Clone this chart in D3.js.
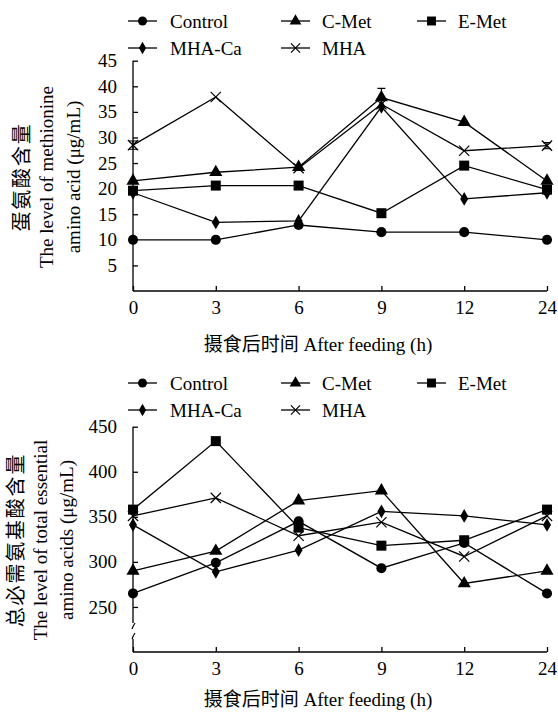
<!DOCTYPE html>
<html>
<head>
<meta charset="utf-8">
<script src="https://cdn.jsdelivr.net/npm/d3@7"></script>
<style>
  body { margin: 0; background: #fff; }
  text { font-family: "Liberation Serif", "Times New Roman", "Noto Sans CJK SC", serif; fill: #000; }
</style>
</head>
<body>
<div class="canvas"></div>
<script>
// data
const hours = ['0', '3', '6', '9', '12', '24'];
const groups = ['Control', 'C-Met', 'E-Met', 'MHA-Ca', 'MHA'];

// methionine (µg/mL)
const metControl = [10.0, 10.0, 12.9, 11.5, 11.5, 10.0];
const metCMet    = [21.5, 23.2, 24.2, 37.8, 33.0, 21.5];
const metEMet    = [19.6, 20.6, 20.6, 15.2, 24.5, 19.8];
const metMHACa   = [19.2, 13.4, 13.7, 36.0, 18.0, 19.2];
const metMHA     = [28.5, 37.9, 24.0, 36.5, 27.4, 28.4];
const metErrCMet = [0, 0, 0, 1.8, 0, 0];
const metErrMHA  = [0.8, 0, 0, 0, 0, 0.6];

// total essential amino acids (µg/mL)
const taaControl = [265, 299, 345, 293, 321, 265];
const taaCMet    = [290, 312, 368, 379, 276, 290];
const taaEMet    = [358, 434, 338, 318, 324, 358];
const taaMHACa   = [341, 289, 313, 356, 351, 341];
const taaMHA     = [351, 371, 329, 344, 306, 351];

const metTicks = [5, 10, 15, 20, 25, 30, 35, 40, 45];
const taaTicks = [250, 300, 350, 400, 450];

const symbols = [d3.symbolCircle, d3.symbolTriangle, d3.symbolSquare, d3.symbolDiamond, d3.symbolX];
const symSize = [80, 75, 100, 55, 70];

const svg = d3.select('.canvas')
  .append('svg')
  .attr('width', 558)
  .attr('height', 712);

const x = d3.scalePoint().domain(hours).range([133, 547]);

const drawLegend = (top) => {
  const pos = [[128, top], [281, top], [417, top], [128, top + 27], [281, top + 27]];
  groups.forEach((name, i) => {
    const g = svg.append('g').attr('transform', `translate(${pos[i][0]}, ${pos[i][1]})`);
    g.append('line')
      .attr('x1', 0).attr('x2', 29)
      .attr('stroke', '#000').attr('stroke-width', 1.3);
    g.append('path')
      .attr('transform', 'translate(14.5, 0)')
      .attr('d', d3.symbol().type(symbols[i]).size(symSize[i] * 0.8)())
      .attr('fill', i === 4 ? 'none' : '#000')
      .attr('stroke', '#000')
      .attr('stroke-width', i === 4 ? 1.2 : 0);
    g.append('text')
      .attr('x', i === 0 || i === 3 ? 42 : 41)
      .attr('y', 6.5)
      .attr('font-size', 19)
      .text(name);
  });
};

const drawChart = (opts) => {
  const { y, ticks, series, errors, titleLines, titleX, titleY, xTitleY, axisBreak } = opts;
  const g = svg.append('g');
  const [bottom, top] = y.range();

  // y axis
  const yAxis = d3.axisLeft(y)
    .tickValues(ticks)
    .tickSizeInner(-5)
    .tickSizeOuter(0)
    .tickPadding(16);
  const yg = g.append('g').attr('transform', `translate(${x.range()[0]}, 0)`).call(yAxis);
  yg.attr('font-family', null);
  yg.select('.domain').remove();
  yg.selectAll('line').attr('stroke-width', 1.3);
  yg.selectAll('text').attr('font-size', 19);

  const x0 = x.range()[0];
  if (axisBreak) {
    g.append('line').attr('x1', x0).attr('x2', x0).attr('y1', top).attr('y2', axisBreak[0])
      .attr('stroke', '#000').attr('stroke-width', 1.3);
    g.append('line').attr('x1', x0).attr('x2', x0).attr('y1', axisBreak[1] + 3).attr('y2', bottom)
      .attr('stroke', '#000').attr('stroke-width', 1.3);
    [axisBreak[0], axisBreak[1] - 3].forEach(yy => {
      g.append('path')
        .attr('d', `M${x0 - 1},${yy + 6} Q${x0},${yy + 3} ${x0 + 2},${yy}`)
        .attr('fill', 'none').attr('stroke', '#000').attr('stroke-width', 1.2);
    });
  } else {
    g.append('line').attr('x1', x0).attr('x2', x0).attr('y1', top).attr('y2', bottom)
      .attr('stroke', '#000').attr('stroke-width', 1.3);
  }

  // x axis
  const xAxis = d3.axisBottom(x)
    .tickSizeInner(-5)
    .tickSizeOuter(0)
    .tickPadding(10);
  const xg = g.append('g').attr('transform', `translate(0, ${bottom})`).call(xAxis);
  xg.attr('font-family', null);
  xg.select('.domain').attr('d', `M${x.range()[0]},0H${x.range()[1]}`).attr('stroke-width', 1.3);
  xg.selectAll('line').attr('stroke-width', 1.3);
  xg.selectAll('text').attr('font-size', 19);

  g.append('text')
    .attr('x', 318)
    .attr('y', xTitleY)
    .attr('text-anchor', 'middle')
    .attr('font-size', 19)
    .text('摄食后时间 After feeding (h)');

  // y title, first line is Chinese
  titleLines.forEach((t, i) => {
    const tt = g.append('text')
      .attr('transform', `translate(${titleX[i]}, ${titleY}) rotate(-90)`)
      .attr('text-anchor', 'middle')
      .attr('font-size', i === 0 ? 20 : 19)
      .text(t);
    if (i === 0) tt.attr('letter-spacing', 1.8);
  });

  const line = d3.line()
    .x((d, i) => x(hours[i]))
    .y(d => y(d));

  series.forEach((vals, s) => {
    g.append('path')
      .datum(vals)
      .attr('fill', 'none')
      .attr('stroke', '#000')
      .attr('stroke-width', 1.3)
      .attr('d', line);

    const err = errors[s];
    if (err) {
      vals.forEach((v, i) => {
        if (!err[i]) return;
        const cx = x(hours[i]);
        g.append('path')
          .attr('d', `M${cx},${y(v - err[i])}V${y(v + err[i])}M${cx - 4},${y(v + err[i])}H${cx + 4}M${cx - 4},${y(v - err[i])}H${cx + 4}`)
          .attr('fill', 'none').attr('stroke', '#000').attr('stroke-width', 1.1);
      });
    }

    g.selectAll(null)
      .data(vals)
      .enter()
      .append('path')
        .attr('transform', (d, i) => `translate(${x(hours[i])}, ${y(d)})`)
        .attr('d', d3.symbol().type(symbols[s]).size(symSize[s]))
        .attr('fill', s === 4 ? 'none' : '#000')
        .attr('stroke', '#000')
        .attr('stroke-width', s === 4 ? 1.2 : 0);
  });
};

// top chart
drawLegend(21);
drawChart({
  y: d3.scaleLinear().domain([0, 45]).range([291, 60.7]),
  ticks: metTicks,
  series: [metControl, metCMet, metEMet, metMHACa, metMHA],
  errors: [null, metErrCMet, null, null, metErrMHA],
  titleLines: ['蛋氨酸含量', 'The level of methionine', 'amino acid (μg/mL)'],
  titleX: [29, 53, 80],
  titleY: 177,
  xTitleY: 351
});

// bottom chart
drawLegend(383);
drawChart({
  y: d3.scaleLinear().domain([200, 450]).range([652, 426.7]),
  ticks: taaTicks,
  series: [taaControl, taaCMet, taaEMet, taaMHACa, taaMHA],
  errors: [null, null, null, null, null],
  titleLines: ['总必需氨基酸含量', 'The level of total essential', 'amino acids (μg/mL)'],
  titleX: [23, 47, 73],
  titleY: 540,
  xTitleY: 706,
  axisBreak: [623, 636]
});
</script>
</body>
</html>
